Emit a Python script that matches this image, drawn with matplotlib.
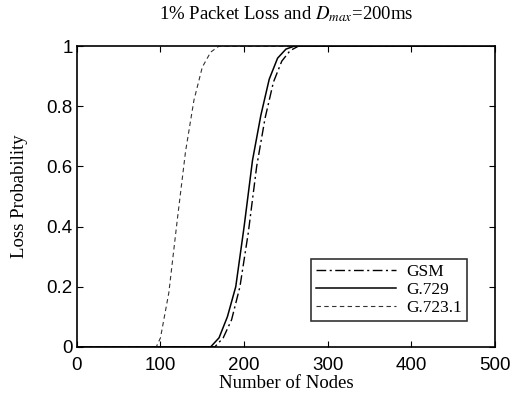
import matplotlib
matplotlib.use("Agg")
import matplotlib.pyplot as plt

# loss probability vs. number of nodes, per codec
gsm_nodes = [0, 165, 175, 185, 195, 205, 215, 225, 235, 245, 255, 265, 500]
gsm_loss = [0, 0, 0.03, 0.09, 0.2, 0.38, 0.6, 0.76, 0.88, 0.95, 0.985, 1, 1]

g729_nodes = [0, 160, 170, 180, 190, 200, 210, 220, 230, 240, 250, 260, 500]
g729_loss = [0, 0, 0.03, 0.1, 0.2, 0.4, 0.62, 0.77, 0.89, 0.96, 0.99, 1, 1]

g7231_nodes = [0, 95, 100, 110, 120, 130, 140, 150, 160, 170, 500]
g7231_loss = [0, 0, 0.03, 0.18, 0.42, 0.65, 0.82, 0.93, 0.98, 1, 1]

xticks = [0, 100, 200, 300, 400, 500]
yticks = [0, 0.2, 0.4, 0.6, 0.8, 1]
ytick_labels = ["0", "0.2", "0.4", "0.6", "0.8", "1"]

plt.rcParams["mathtext.fontset"] = "stix"

fig = plt.figure(figsize=(5.12, 4.01), dpi=100)
ax = fig.add_axes([0.150, 0.135, 0.817, 0.750])

ax.plot(gsm_nodes, gsm_loss, color="black", lw=1.0, linestyle=(0, (7, 2.5, 1.5, 2.5)), label="GSM")
ax.plot(g729_nodes, g729_loss, color="black", lw=1.1, label="G.729")
ax.plot(g7231_nodes, g7231_loss, color="#333333", lw=0.8, linestyle=(0, (4, 3)), label="G.723.1")

ax.set_xlim(0, 500)
ax.set_ylim(0, 1)
ax.set_xticks(xticks)
ax.set_yticks(yticks)
ax.set_yticklabels(ytick_labels)
ax.tick_params(direction="in", top=True, right=True, length=4, labelsize=13.5)
ax.tick_params(axis="x", pad=7)
ax.tick_params(axis="y", pad=3)
for lab in ax.get_xticklabels() + ax.get_yticklabels():
    lab.set_family("Liberation Sans")
for sp in ax.spines.values():
    sp.set_linewidth(1.2)

serif = "Liberation Serif"
ax.set_xlabel("Number of Nodes", fontsize=13.5, family=serif, labelpad=1)
ax.set_ylabel("Loss Probability", fontsize=13.5, family=serif, labelpad=13)
ax.set_title("1% Packet Loss and $D_{max}$=200ms", fontsize=13.5, family=serif, pad=19)

leg = ax.legend(loc="lower right", bbox_to_anchor=(0.934, 0.085), prop={"family": serif, "size": 12.5},
                handlelength=4.6, frameon=True, fancybox=False, borderpad=0.3,
                labelspacing=0.1, handletextpad=0.6, borderaxespad=0)
leg.get_frame().set_edgecolor("black")
leg.get_frame().set_linewidth(1.2)

fig.savefig("out.png", dpi=100)
